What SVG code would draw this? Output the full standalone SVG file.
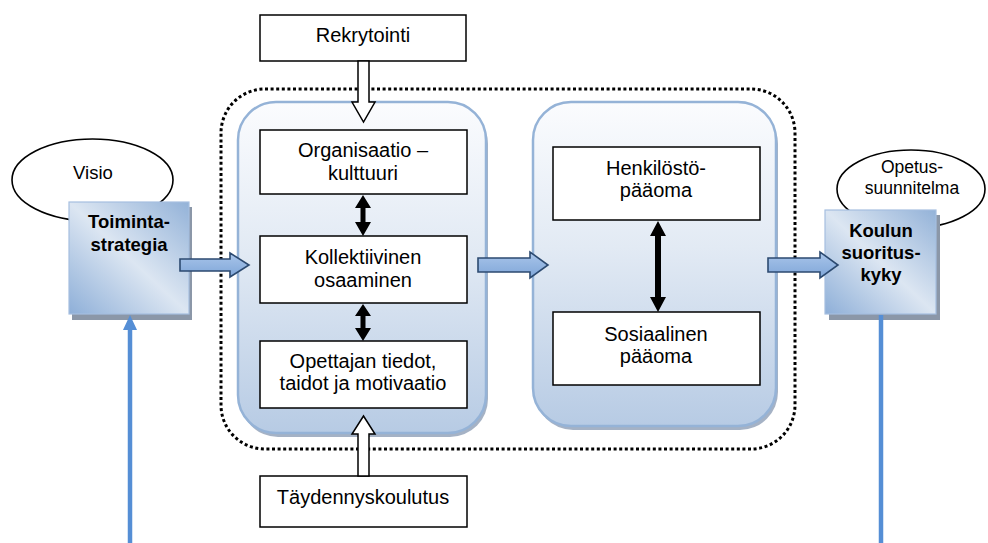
<svg xmlns="http://www.w3.org/2000/svg" width="988" height="543" viewBox="0 0 988 543">
  <defs>
    <linearGradient id="panelFill" x1="0" y1="0" x2="0" y2="1">
      <stop offset="0" stop-color="#fbfcfe"/>
      <stop offset="0.45" stop-color="#e2eaf4"/>
      <stop offset="1" stop-color="#b7cbe4"/>
    </linearGradient>
    <linearGradient id="squareFill" x1="0" y1="1" x2="1" y2="0">
      <stop offset="0" stop-color="#8eafd8"/>
      <stop offset="0.5" stop-color="#dce6f2"/>
      <stop offset="1" stop-color="#93b2d8"/>
    </linearGradient>
    <linearGradient id="arrowFill" x1="0" y1="0" x2="0" y2="1">
      <stop offset="0" stop-color="#a9c5ea"/>
      <stop offset="1" stop-color="#7fa6d8"/>
    </linearGradient>
  </defs>
  <style>
    .box { fill: #ffffff; stroke: #000000; stroke-width: 1.5; }
    .oval { fill: #ffffff; stroke: #000000; stroke-width: 1.6; }
    .panel { fill: url(#panelFill); stroke: #95b3d7; stroke-width: 2.5; }
    .panelShadow { fill: #8f9fb6; opacity: 0.8; }
    .square { fill: url(#squareFill); stroke: #a6bfdf; stroke-width: 1.2; }
    .squareShadow { fill: #8b97a8; }
    .dotted { fill: none; stroke: #000000; stroke-width: 3; stroke-dasharray: 3 2.6; }
    .blockArrow { fill: url(#arrowFill); stroke: #2c4a70; stroke-width: 1.6; stroke-linejoin: miter; }
    .hollowArrow { fill: #ffffff; stroke: #000000; stroke-width: 1.5; stroke-linejoin: miter; }
    .solidArrow { fill: #000000; stroke: none; }
    .blueLine { fill: none; stroke: #558ed5; stroke-width: 4.5; }
    .t { font-family: "Liberation Sans", Arial, sans-serif; font-size: 20px; fill: #000000; text-anchor: middle; }
    .b { font-family: "Liberation Sans", Arial, sans-serif; font-size: 18.5px; font-weight: bold; fill: #000000; text-anchor: middle; }
    .s { font-family: "Liberation Sans", Arial, sans-serif; font-size: 17.5px; fill: #000000; text-anchor: middle; }
  </style>

  <!-- dotted boundary around the two inner panels -->
  <rect class="dotted" x="221" y="89" width="574" height="360" rx="44" ry="44"/>

  <!-- left panel -->
  <g id="panel-left">
    <rect class="panelShadow" x="240" y="106" width="248" height="331" rx="38" ry="38"/>
    <rect class="panel" x="238" y="102" width="248" height="331" rx="38" ry="38"/>
  </g>

  <!-- right panel -->
  <g id="panel-right">
    <rect class="panelShadow" x="535" y="106" width="243" height="324" rx="38" ry="38"/>
    <rect class="panel" x="533" y="102" width="243" height="324" rx="38" ry="38"/>
  </g>

  <g id="visio">
    <ellipse class="oval" cx="92.5" cy="180" rx="80.5" ry="41"/>
    <text class="t" x="93" y="179" style="font-size:18.5px">Visio</text>
  </g>

  <g id="opetussuunnitelma">
    <ellipse class="oval" cx="911" cy="189" rx="74" ry="39"/>
    <text class="s" x="912" y="173">Opetus-</text>
    <text class="s" x="912" y="194">suunnitelma</text>
  </g>

  <g id="toimintastrategia">
    <rect class="squareShadow" x="72" y="207" width="120" height="113"/>
    <rect class="square" x="69" y="202" width="120" height="112"/>
    <text class="b" x="129" y="228">Toiminta-</text>
    <text class="b" x="129" y="251">strategia</text>
  </g>

  <g id="koulun-suorituskyky">
    <rect class="squareShadow" x="829" y="215" width="111" height="105"/>
    <rect class="square" x="825" y="210" width="111" height="104"/>
    <text class="b" x="881" y="237">Koulun</text>
    <text class="b" x="881" y="259">suoritus-</text>
    <text class="b" x="881" y="281">kyky</text>
  </g>

  <g id="rekrytointi">
    <rect class="box" x="260" y="15" width="206" height="46"/>
    <text class="t" x="363" y="42">Rekrytointi</text>
  </g>

  <g id="organisaatiokulttuuri">
    <rect class="box" x="260" y="130" width="207" height="64"/>
    <text class="t" x="363" y="157">Organisaatio –</text>
    <text class="t" x="363" y="180">kulttuuri</text>
  </g>

  <g id="kollektiivinen-osaaminen">
    <rect class="box" x="260" y="236" width="207" height="67"/>
    <text class="t" x="363" y="264">Kollektiivinen</text>
    <text class="t" x="363" y="287">osaaminen</text>
  </g>

  <g id="opettajan-tiedot">
    <rect class="box" x="260" y="341" width="207" height="67"/>
    <text class="t" x="363" y="368">Opettajan tiedot,</text>
    <text class="t" x="363" y="390">taidot ja motivaatio</text>
  </g>

  <g id="taydennyskoulutus">
    <rect class="box" x="260" y="476" width="207" height="51"/>
    <text class="t" x="363" y="504">Täydennyskoulutus</text>
  </g>

  <g id="henkilostopaaoma">
    <rect class="box" x="553" y="147" width="207" height="73"/>
    <text class="t" x="656" y="175">Henkilöstö-</text>
    <text class="t" x="656" y="197">pääoma</text>
  </g>

  <g id="sosiaalinen-paaoma">
    <rect class="box" x="553" y="312" width="207" height="73"/>
    <text class="t" x="656" y="341">Sosiaalinen</text>
    <text class="t" x="656" y="363">pääoma</text>
  </g>

  <g id="connectors">
    <!-- hollow input arrows -->
    <polygon class="hollowArrow" points="358,61 369,61 369,102 375,102 363.5,122 352,102 358,102"/>
    <polygon class="hollowArrow" points="358,476 369,476 369,434 375,434 363.5,416 352,434 358,434"/>

    <!-- two-way arrows between inner boxes -->
    <polygon class="solidArrow" points="363,195 371,208 365.5,208 365.5,222 371,222 363,236 355,222 360.5,222 360.5,208 355,208"/>
    <polygon class="solidArrow" points="363,304 371,316 365.5,316 365.5,328 371,328 363,341 355,328 360.5,328 360.5,316 355,316"/>
    <polygon class="solidArrow" points="658,221 666,236 661,236 661,297 666,297 658,312 650,297 655,297 655,236 650,236"/>

    <!-- block arrows along the main flow -->
    <polygon class="blockArrow" points="180,259 230,259 230,253 249,265 230,277 230,271 180,271"/>
    <polygon class="blockArrow" points="478,258 530,258 530,252 548,265 530,278 530,272 478,272"/>
    <polygon class="blockArrow" points="768,258 820,258 820,252 838,265 820,278 820,272 768,272"/>

    <!-- feedback lines -->
    <line class="blueLine" x1="130" y1="543" x2="130" y2="330"/>
    <polygon points="130,315 137,330 123,330" fill="#558ed5"/>
    <line class="blueLine" x1="881" y1="315" x2="881" y2="543"/>
  </g>
</svg>
